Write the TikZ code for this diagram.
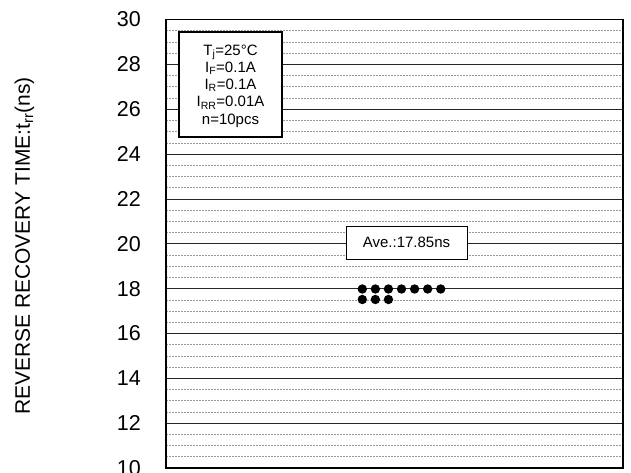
\documentclass[tikz,border=0pt]{standalone}
\usepackage{fontspec}
\setmainfont{Liberation Sans}
\begin{document}
\begin{tikzpicture}[x=1pt,y=-1pt,
  minorline/.style={draw=gray!80, line width=0.6pt, dash pattern=on 2pt off 1pt},
  majorline/.style={draw=black!85, line width=0.8pt},
  frame/.style={draw=black, line width=1.5pt},
  ticklab/.style={anchor=east, inner sep=0pt, font=\fontsize{21.5}{24}\selectfont},
  dot/.style={circle, fill=black, inner sep=0pt, minimum size=9.4pt},
  infobox/.style={draw=black, line width=1.4pt, fill=white},
  avebox/.style={draw=black, line width=1pt, fill=white}]
\useasboundingbox (0,0) rectangle (631,473);
% grid
\foreach \i in {1,...,39}{
  \pgfmathsetmacro{\yy}{19.5+\i*11.2125}
  \pgfmathtruncatemacro{\md}{mod(\i,4)}
  \ifnum\md=0
    \draw[majorline] (166,\yy) -- (623,\yy);
  \else
    \draw[minorline] (166,\yy) -- (623,\yy);
  \fi
}
% frame
\draw[frame] (166,19.5) rectangle (623,468);
% tick labels
\foreach \v in {10,12,...,30}{
  \pgfmathsetmacro{\yy}{19.5+(30-\v)*22.425}
  \node[ticklab] (t\v) at (141,\yy) {\v};
}
% y-axis label
\node[rotate=90, inner sep=0pt, font=\fontsize{21}{24}\selectfont] (ylab) at (24.5,246)
  {REVERSE RECOVERY TIME:t\textsubscript{rr}(ns)};
% info box
\draw[infobox] (179,32) rectangle (282,137);
\node[align=center, inner sep=0pt, font=\fontsize{15}{17.2}\selectfont] (info) at (230.5,86)
  {T\textsubscript{j}=25°C\\I\textsubscript{F}=0.1A\\I\textsubscript{R}=0.1A\\I\textsubscript{RR}=0.01A\\n=10pcs};
% average box
\draw[avebox] (346,226) rectangle (467,259);
\node[inner sep=0pt, font=\fontsize{15}{17}\selectfont] (ave) at (406.5,242.5) {Ave.:17.85ns};
% data points
\foreach \k in {0,...,6}{
  \node[dot] (a\k) at (362.3+\k*13.07,289) {};
}
\foreach \k in {0,...,2}{
  \node[dot] (b\k) at (362.3+\k*13.07,299.5) {};
}
\end{tikzpicture}
\end{document}
